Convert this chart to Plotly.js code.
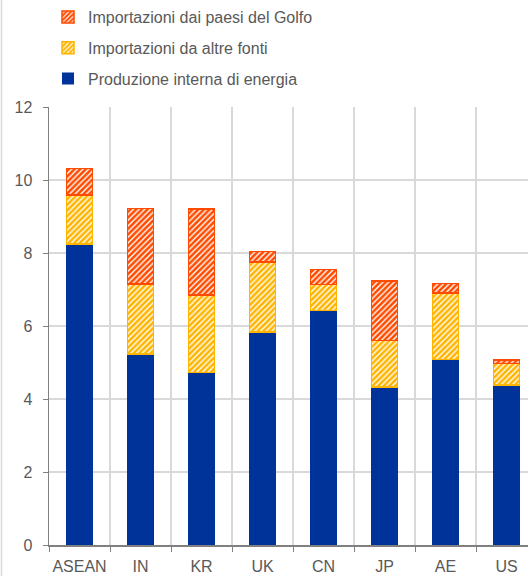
<!DOCTYPE html>
<html>
<head>
<meta charset="utf-8">
<script src="https://cdn.plot.ly/plotly-3.0.1.min.js"></script>
<style>
html,body{margin:0;padding:0;overflow:hidden;background:#fff;}
#chart{width:548px;height:576px;}
</style>
</head>
<body>
<div id="chart"></div>
<script>
var categories = ["ASEAN","IN","KR","UK","CN","JP","AE","US"];
var produzioneInterna = [8.24, 5.23, 4.72, 5.83, 6.43, 4.33, 5.08, 4.38];
var importAltreFonti = [1.35, 1.92, 2.13, 1.93, 0.71, 1.27, 1.83, 0.59];
var importGolfo = [0.73, 2.07, 2.35, 0.28, 0.41, 1.63, 0.26, 0.10];
var yTicks = [0, 2, 4, 6, 8, 10, 12];

var blue = "#003399", yellow = "#FFB400", red = "#FF4B00";
var W = 548, L = 49, R = 11, T = 107, B = 31, H = 576;
var plotW = W - L - R, plotH = H - T - B;

function patterned(col){
  return {color: col, line:{color: col, width:1.5},
          pattern:{shape:"/", fgcolor:"#ffffff", bgcolor: col, fillmode:"replace", size:4, solidity:0.35}};
}

var data = [
  {type:"bar", name:"Produzione interna di energia", x:categories, y:produzioneInterna,
   marker:{color:blue, line:{color:blue, width:0}}, legendgroup:"a", legendrank:3},
  {type:"bar", name:"Importazioni da altre fonti", x:categories, y:importAltreFonti,
   marker:patterned(yellow), legendgroup:"b", legendrank:2},
  {type:"bar", name:"Importazioni dai paesi del Golfo", x:categories, y:importGolfo,
   marker:patterned(red), legendgroup:"c", legendrank:1}
];

var layout = {
  width: W, height: H,
  margin:{l:L, r:R, t:T, b:B, autoexpand:false},
  paper_bgcolor:"#fff", plot_bgcolor:"#fff",
  barmode:"stack", bargap:0.57,
  font:{family:"Liberation Sans, Arial, sans-serif", size:16, color:"#595959"},
  showlegend:true,
  legend:{xref:"container", yref:"container", x:48/W, y:1.006, xanchor:"left", yanchor:"top",
          traceorder:"grouped", tracegroupgap:7, bgcolor:"rgba(0,0,0,0)",
          font:{size:16, color:"#595959"}, itemwidth:30},
  xaxis:{type:"category", tickson:"boundaries", ticks:"outside", ticklen:5, tickcolor:"#808080",
         tickangle:0, automargin:false, ticklabelstandoff:6,
         showgrid:true, gridcolor:"#d9d9d9", gridwidth:1.5,
         showline:true, linecolor:"#808080", linewidth:1.5, tickfont:{size:16, color:"#595959"}},
  yaxis:{range:[0,12], tickvals:yTicks, ticktext:yTicks.map(String), ticks:"outside", ticklen:5,
         tickcolor:"#808080", showgrid:true, gridcolor:"#d9d9d9", gridwidth:1.5,
         showline:true, linecolor:"#808080", linewidth:1.5, zeroline:false, automargin:false,
         ticklabelstandoff:7, tickfont:{size:16, color:"#595959"}},
  shapes:[{type:"line", xref:"paper", yref:"paper", x0:(1.5-L)/plotW, x1:(1.5-L)/plotW,
           y0:-B/plotH, y1:1+T/plotH, line:{color:"#d9d9d9", width:1.5}}]
};

Plotly.newPlot("chart", data, layout, {displayModeBar:false, staticPlot:true});
</script>
</body>
</html>
